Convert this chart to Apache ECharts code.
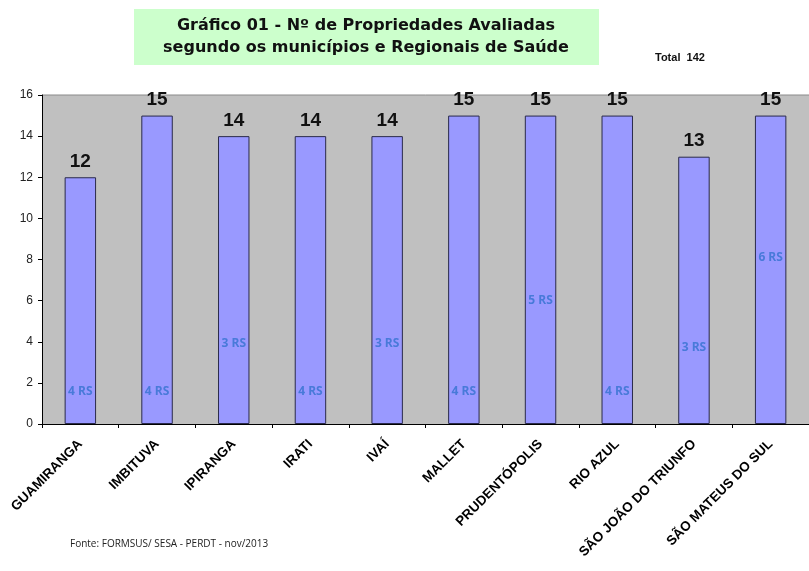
<!DOCTYPE html>
<html>
<head>
<meta charset="utf-8">
<script src="https://cdn.jsdelivr.net/npm/echarts@6/dist/echarts.min.js"></script>
<style>
  html, body { margin: 0; padding: 0; background: #fff; }
  #chart { width: 809px; height: 571px; }
</style>
</head>
<body>
<div id="chart"></div>
<script>
// Municipalities (categories)
const municipios = ['GUAMIRANGA', 'IMBITUVA', 'IPIRANGA', 'IRATI', 'IVAÍ', 'MALLET',
  'PRUDENTÓPOLIS', 'RIO AZUL', 'SÃO JOÃO DO TRIUNFO', 'SÃO MATEUS DO SUL'];
// Number of evaluated properties per municipality
const propriedades = [12, 15, 14, 14, 14, 15, 15, 15, 13, 15];
// Regional health office of each municipality
const regionais = ['4 RS', '4 RS', '3 RS', '4 RS', '3 RS', '4 RS', '5 RS', '4 RS', '3 RS', '6 RS'];
// Level (in axis units) at which each regional tag sits inside its bar
const regionalNivel = [1.6, 1.6, 3.9, 1.6, 3.9, 1.6, 6.0, 1.6, 3.7, 8.1];
// Value axis ticks
const yMin = 0, yMax = 16, yStep = 2;

const chart = echarts.init(document.getElementById('chart'), null, { renderer: 'canvas' });

chart.setOption({
  animation: false,
  backgroundColor: '#ffffff',
  grid: {
    left: 42, top: 95, width: 780, bottom: 147,
    show: true, backgroundColor: '#c0c0c0', borderWidth: 0
  },
  xAxis: {
    type: 'category',
    data: municipios,
    axisLine: { show: true, lineStyle: { color: '#000', width: 1 } },
    axisTick: { show: true, length: 4, lineStyle: { color: '#000' } },
    axisLabel: {
      rotate: 45, interval: 0, margin: 18,
      fontFamily: 'Liberation Sans, Arial, sans-serif',
      fontWeight: 'bold', fontSize: 13.5, color: '#000'
    },
    splitLine: { show: false }
  },
  yAxis: {
    type: 'value',
    min: yMin, max: yMax, interval: yStep,
    axisLine: { show: true, lineStyle: { color: '#000', width: 1 } },
    axisTick: { show: true, length: 4, lineStyle: { color: '#000' } },
    axisLabel: {
      margin: 9,
      fontFamily: 'Liberation Sans, Arial, sans-serif',
      fontSize: 12, color: '#222'
    },
    splitLine: { show: false }
  },
  series: [
    {
      type: 'bar',
      data: propriedades,
      barWidth: '41%',
      itemStyle: { color: '#9999ff', borderColor: '#2a2a4a', borderWidth: 1 },
      label: {
        show: true, position: 'top', distance: 6,
        fontFamily: 'Liberation Sans, Arial, sans-serif',
        fontWeight: 'bold', fontSize: 19, color: '#111'
      }
    },
    {
      type: 'scatter',
      data: regionalNivel,
      symbolSize: 0,
      silent: true,
      z: 5,
      label: {
        show: true, position: 'inside',
        formatter: p => regionais[p.dataIndex],
        fontFamily: 'Open Sans, Liberation Sans, sans-serif',
        fontWeight: 'bold', fontSize: 12, color: '#3372cf'
      }
    }
  ],
  graphic: [
    // plot top border
    {
      type: 'line', silent: true,
      shape: { x1: 42, y1: 95, x2: 809, y2: 95 },
      style: { stroke: '#8a8a8a', lineWidth: 1 }
    },
    // title box
    {
      type: 'rect', silent: true,
      shape: { x: 134, y: 9, width: 465, height: 56 },
      style: { fill: '#ccffcc' }
    },
    {
      type: 'text', silent: true,
      x: 366, y: 37,
      style: {
        text: 'Gráfico 01 - Nº de Propriedades Avaliadas\nsegundo os municípios e Regionais de Saúde',
        align: 'center', verticalAlign: 'middle',
        font: 'bold 16px "DejaVu Sans", Verdana, sans-serif',
        lineHeight: 22, fill: '#111'
      }
    },
    {
      type: 'text', silent: true,
      x: 655, y: 58,
      style: {
        text: 'Total  142', verticalAlign: 'middle',
        font: 'bold 11px "Liberation Sans", Arial, sans-serif', fill: '#111'
      }
    },
    {
      type: 'text', silent: true,
      x: 70, y: 544,
      style: {
        text: 'Fonte: FORMSUS/ SESA - PERDT - nov/2013', verticalAlign: 'middle',
        font: '10px "Open Sans", "Liberation Sans", sans-serif', fill: '#222'
      }
    }
  ]
});
</script>
</body>
</html>
